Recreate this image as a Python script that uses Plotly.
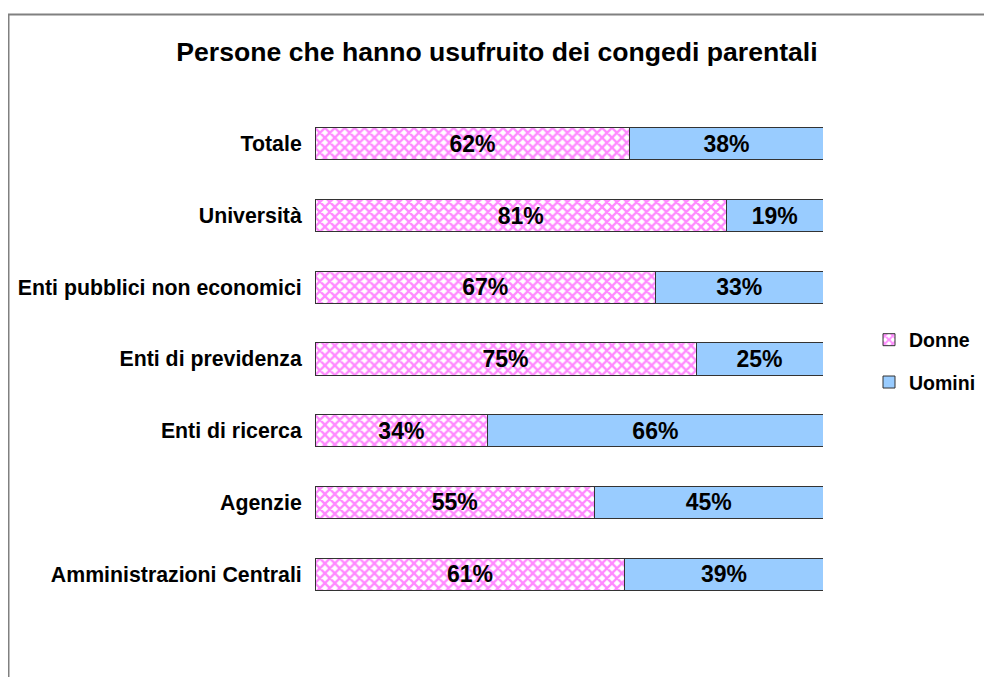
import plotly.graph_objects as go

categories = ["Amministrazioni Centrali", "Agenzie", "Enti di ricerca", "Enti di previdenza",
              "Enti pubblici non economici", "Università", "Totale"]
donne = [61, 55, 34, 75, 67, 81, 62]
uomini = [39, 45, 66, 25, 33, 19, 38]

# page renders with an 8px body margin; work in figure coordinates
OFF = 8
W, H = 984, 669
L, R, T, B = 307, 169, 100, 67
pw, ph = W - L - R, H - T - B

font = "Arial, Liberation Sans, Helvetica, sans-serif"

fig = go.Figure()
fig.add_trace(go.Bar(
    y=categories, x=donne, orientation="h", name="<b>Donne</b>", legendgroup="d",
    text=[f"<b>{v}%</b>" for v in donne], textposition="inside", insidetextanchor="middle",
    textfont=dict(family=font, size=23, color="black"),
    marker=dict(color="white", line=dict(color="#333333", width=1),
                pattern=dict(shape="x", fgcolor="#FF11FF", bgcolor="white", size=7, solidity=0.55)),
))
fig.add_trace(go.Bar(
    y=categories, x=uomini, orientation="h", name="<b>Uomini</b>", legendgroup="u",
    text=[f"<b>{v}%</b>" for v in uomini], textposition="inside", insidetextanchor="middle",
    textfont=dict(family=font, size=23, color="black"),
    marker=dict(color="#99CCFF", line=dict(color="#333333", width=1)),
))

def px_x(x):
    return (x - OFF - L) / pw

def px_y(y):
    return (H - B - (y - OFF)) / ph

fig.update_layout(
    width=W, height=H, barmode="stack", bargap=0.55,
    margin=dict(l=L, r=R, t=T, b=B, autoexpand=False),
    paper_bgcolor="white", plot_bgcolor="white",
    font=dict(family=font, color="black"),
    title=dict(text="<b>Persone che hanno usufruito dei congedi parentali</b>",
               x=(497 - OFF) / W, xref="container", xanchor="center",
               y=1 - (52 - OFF) / H, yanchor="middle",
               font=dict(family=font, size=26.6, color="black")),
    xaxis=dict(range=[0, 100], visible=False),
    yaxis=dict(showgrid=False, zeroline=False, showline=False, ticks="outside",
               ticklen=8, tickcolor="white",
               tickfont=dict(family=font, size=21.3, color="black"),
               ticktext=[f"<b>{c}</b>" for c in categories], tickvals=categories),
    showlegend=True,
    legend=dict(x=px_x(869), xanchor="left", y=px_y(361), yanchor="middle",
                font=dict(family=font, size=19.5, color="black"), tracegroupgap=14,
                itemwidth=30, traceorder="grouped", bgcolor="rgba(0,0,0,0)"),
    shapes=[dict(type="rect", xref="paper", yref="paper",
                 x0=px_x(8.5), x1=px_x(1005), y0=px_y(690), y1=px_y(14.5),
                 line=dict(color="#808080", width=2), fillcolor="rgba(0,0,0,0)", layer="below")],
)

fig.write_html("out.html")
